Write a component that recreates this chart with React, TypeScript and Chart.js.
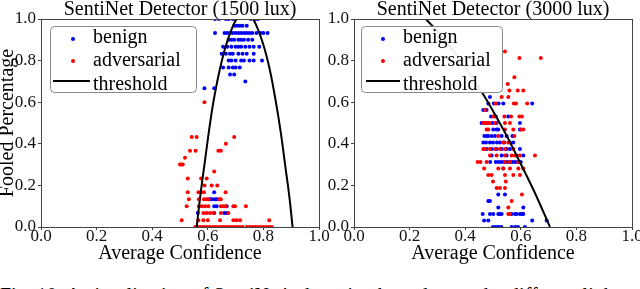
import React, { useEffect, useRef } from 'react';
import { Chart, registerables } from 'chart.js';

Chart.register(...registerables);

const FONT = "'Liberation Serif', 'Times New Roman', Times, serif";
Chart.defaults.font.family = FONT;

// ---------- data ----------
const xTicks = [0, 0.2, 0.4, 0.6, 0.8, 1.0];
const yTicks = [0, 0.2, 0.4, 0.6, 0.8, 1.0];

const leftTitle = 'SentiNet Detector (1500 lux)';
const rightTitle = 'SentiNet Detector (3000 lux)';
const xTitle = 'Average Confidence';
const yTitle = 'Fooled Percentage';
const caption = "Fig. 10: A visualization of SentiNet's detection boundary under different light conditions.";

const leftBenign: [number, number][] = [
  [0.626, 1.0], [0.64, 1.0], [0.665, 1.0], [0.675, 1.0], [0.69, 1.0], [0.70, 1.0], [0.755, 1.0], [0.77, 1.0], [0.78, 1.0],
  [0.695, 0.967], [0.705, 0.967], [0.715, 0.967], [0.725, 0.967], [0.74, 0.967],
  [0.626, 0.933], [0.66, 0.933], [0.67, 0.933], [0.68, 0.933], [0.69, 0.933], [0.70, 0.933], [0.71, 0.933], [0.72, 0.933],
  [0.73, 0.933], [0.74, 0.933], [0.75, 0.933], [0.76, 0.933], [0.775, 0.933], [0.79, 0.933], [0.80, 0.933], [0.815, 0.933],
  [0.675, 0.9], [0.685, 0.9], [0.695, 0.9], [0.71, 0.9], [0.72, 0.9], [0.73, 0.9], [0.745, 0.9], [0.76, 0.9],
  [0.655, 0.867], [0.67, 0.867], [0.685, 0.867], [0.70, 0.867], [0.71, 0.867], [0.72, 0.867], [0.735, 0.867], [0.75, 0.867], [0.765, 0.867], [0.785, 0.867],
  [0.65, 0.833], [0.665, 0.833], [0.68, 0.833], [0.69, 0.833], [0.71, 0.833], [0.725, 0.833], [0.74, 0.833], [0.765, 0.833],
  [0.675, 0.8], [0.685, 0.8], [0.70, 0.8], [0.72, 0.8], [0.73, 0.8], [0.75, 0.8], [0.765, 0.8], [0.795, 0.8],
  [0.655, 0.767], [0.675, 0.767], [0.69, 0.767], [0.70, 0.767], [0.715, 0.767],
  [0.68, 0.733], [0.695, 0.733],
  [0.735, 0.7],
  [0.588, 0.667], [0.623, 0.667],
  [0.623, 0.167],
  [0.608, 0.133], [0.615, 0.133], [0.625, 0.133], [0.633, 0.133],
  [0.623, 0.1], [0.632, 0.1], [0.668, 0.1],
  [0.564, 0.067], [0.623, 0.067], [0.659, 0.067], [0.668, 0.067],
];

const leftAdversarial: [number, number][] = [
  [0.588, 0.6],
  [0.542, 0.433], [0.56, 0.433], [0.695, 0.433],
  [0.665, 0.4],
  [0.536, 0.367], [0.556, 0.367], [0.638, 0.367], [0.647, 0.367],
  [0.518, 0.333],
  [0.50, 0.3], [0.505, 0.3], [0.51, 0.3],
  [0.623, 0.267],
  [0.528, 0.233], [0.576, 0.233], [0.596, 0.233],
  [0.588, 0.2], [0.614, 0.2], [0.634, 0.2],
  [0.528, 0.167], [0.566, 0.167], [0.576, 0.167], [0.586, 0.167], [0.664, 0.167],
  [0.532, 0.133], [0.568, 0.133], [0.586, 0.133], [0.596, 0.133], [0.603, 0.133], [0.64, 0.133], [0.647, 0.133],
  [0.524, 0.1], [0.568, 0.1], [0.578, 0.1], [0.59, 0.1], [0.602, 0.1], [0.647, 0.1], [0.656, 0.1], [0.664, 0.1], [0.692, 0.1], [0.698, 0.1], [0.737, 0.1],
  [0.584, 0.067], [0.596, 0.067], [0.608, 0.067], [0.62, 0.067], [0.647, 0.067], [0.674, 0.067],
  [0.506, 0.033], [0.566, 0.033], [0.584, 0.033], [0.60, 0.033], [0.644, 0.033], [0.692, 0.033], [0.704, 0.033], [0.716, 0.033], [0.821, 0.033],
  [0.555, 0], [0.565, 0], [0.575, 0], [0.585, 0], [0.595, 0], [0.605, 0], [0.615, 0], [0.625, 0], [0.635, 0], [0.645, 0],
  [0.655, 0], [0.665, 0], [0.675, 0], [0.685, 0], [0.695, 0], [0.705, 0], [0.715, 0], [0.725, 0], [0.74, 0], [0.75, 0],
  [0.76, 0], [0.77, 0], [0.78, 0], [0.79, 0], [0.80, 0], [0.81, 0], [0.82, 0], [0.83, 0],
];

const leftThresholdX = [0.56, 0.573, 0.587, 0.603, 0.62, 0.642, 0.667, 0.703, 0.733, 0.763, 0.799, 0.824, 0.845, 0.863, 0.879, 0.893, 0.905];
const leftThresholdY = [0, 0.15, 0.29, 0.45, 0.6, 0.75, 0.88, 1.0, 1.03, 1.0, 0.88, 0.75, 0.6, 0.45, 0.29, 0.15, 0];

const rightBenign: [number, number][] = [
  [0.489, 0.625],
  [0.483, 0.594], [0.503, 0.594], [0.52, 0.594], [0.537, 0.594], [0.641, 0.594],
  [0.465, 0.5625], [0.477, 0.5625],
  [0.493, 0.531], [0.51, 0.531], [0.555, 0.531],
  [0.459, 0.5], [0.498, 0.5], [0.513, 0.5], [0.597, 0.5],
  [0.501, 0.469], [0.513, 0.469], [0.519, 0.469], [0.597, 0.469],
  [0.469, 0.4375], [0.477, 0.4375], [0.483, 0.4375], [0.495, 0.4375], [0.507, 0.4375], [0.531, 0.4375], [0.549, 0.4375], [0.57, 0.4375],
  [0.465, 0.406], [0.475, 0.406], [0.489, 0.406], [0.50, 0.406], [0.514, 0.406], [0.525, 0.406], [0.54, 0.406], [0.561, 0.406], [0.573, 0.406],
  [0.477, 0.375], [0.495, 0.375], [0.513, 0.375], [0.531, 0.375], [0.549, 0.375], [0.561, 0.375], [0.597, 0.375],
  [0.495, 0.344], [0.531, 0.344], [0.549, 0.344], [0.585, 0.344], [0.609, 0.344],
  [0.49, 0.3125], [0.51, 0.3125], [0.52, 0.3125], [0.53, 0.3125], [0.54, 0.3125], [0.55, 0.3125], [0.56, 0.3125], [0.57, 0.3125], [0.58, 0.3125], [0.59, 0.3125], [0.60, 0.3125],
  [0.537, 0.281],
  [0.519, 0.156], [0.543, 0.156],
  [0.483, 0.125], [0.489, 0.125],
  [0.519, 0.094], [0.609, 0.094],
  [0.463, 0.0625], [0.489, 0.0625], [0.501, 0.0625], [0.519, 0.0625], [0.525, 0.0625], [0.531, 0.0625], [0.567, 0.0625], [0.579, 0.0625], [0.585, 0.0625], [0.597, 0.0625], [0.604, 0.0625], [0.609, 0.0625],
  [0.468, 0.031], [0.483, 0.031], [0.641, 0.031], [0.693, 0.031],
  [0.50, 0], [0.51, 0], [0.52, 0], [0.53, 0], [0.567, 0], [0.58, 0], [0.59, 0], [0.615, 0],
];

const rightAdversarial: [number, number][] = [
  [0.543, 0.844],
  [0.595, 0.8125], [0.672, 0.8125],
  [0.577, 0.72],
  [0.553, 0.6875],
  [0.559, 0.656], [0.589, 0.656], [0.609, 0.656],
  [0.531, 0.625], [0.555, 0.625],
  [0.51, 0.594], [0.575, 0.594], [0.583, 0.594], [0.623, 0.594],
  [0.471, 0.5625],
  [0.501, 0.531], [0.541, 0.531], [0.565, 0.531], [0.595, 0.531], [0.604, 0.531],
  [0.465, 0.5], [0.471, 0.5], [0.477, 0.5], [0.483, 0.5], [0.489, 0.5], [0.507, 0.5], [0.543, 0.5], [0.561, 0.5],
  [0.477, 0.469], [0.483, 0.469], [0.543, 0.469], [0.573, 0.469], [0.601, 0.469], [0.609, 0.469],
  [0.519, 0.4375], [0.577, 0.4375],
  [0.537, 0.406], [0.555, 0.406],
  [0.465, 0.375], [0.471, 0.375], [0.489, 0.375], [0.507, 0.375], [0.525, 0.375], [0.543, 0.375], [0.573, 0.375],
  [0.489, 0.344], [0.513, 0.344], [0.543, 0.344], [0.567, 0.344], [0.579, 0.344], [0.597, 0.344], [0.651, 0.344],
  [0.445, 0.3125], [0.455, 0.3125], [0.477, 0.3125], [0.543, 0.3125], [0.561, 0.3125], [0.591, 0.3125],
  [0.468, 0.281], [0.519, 0.281], [0.537, 0.281], [0.561, 0.281], [0.591, 0.281], [0.609, 0.281],
  [0.483, 0.25], [0.495, 0.25], [0.543, 0.25], [0.573, 0.25], [0.597, 0.25],
  [0.50, 0.219], [0.546, 0.219],
  [0.513, 0.1875], [0.525, 0.1875], [0.543, 0.1875],
  [0.604, 0.156],
  [0.567, 0.125],
  [0.555, 0.094],
  [0.555, 0.0625], [0.561, 0.0625],
];

const rightThresholdX = [0.24, 0.258, 0.30, 0.35, 0.40, 0.459, 0.50, 0.55, 0.60, 0.65, 0.705];
const rightThresholdY = [1.02, 1.0, 0.94, 0.86, 0.769, 0.65, 0.558, 0.437, 0.303, 0.166, 0];

const legendLabels = ['benign', 'adversarial', 'threshold'];
const benignColor = '#0000ff';
const adversarialColor = '#ff0000';
const thresholdColor = '#000000';

// ---------- plugins ----------
const framePlugin = {
  id: 'frame',
  afterDatasetsDraw(chart: any) {
    const { ctx, chartArea } = chart;
    ctx.save();
    ctx.strokeStyle = '#444';
    ctx.lineWidth = 1;
    const l = Math.round(chartArea.left) + 0.5;
    const t = Math.round(chartArea.top) + 0.5;
    const r = Math.round(chartArea.right) + 0.5;
    const b = Math.round(chartArea.bottom) + 0.5;
    ctx.strokeRect(l, t, r - l, b - t);
    ctx.restore();
  },
};

const boxLegendPlugin = {
  id: 'boxLegend',
  afterDraw(chart: any, _args: any, opts: any) {
    const { ctx } = chart;
    const { x, y, w, h, markerX, textX, lineX1, lineX2, rowsY, baselines } = opts;
    ctx.save();
    ctx.beginPath();
    if (ctx.roundRect) ctx.roundRect(x + 0.5, y + 0.5, w, h, 4);
    else ctx.rect(x + 0.5, y + 0.5, w, h);
    ctx.fillStyle = 'rgba(255,255,255,0.92)';
    ctx.fill();
    ctx.strokeStyle = '#8a8a8a';
    ctx.lineWidth = 1;
    ctx.stroke();

    const ds = chart.data.datasets;
    legendLabels.forEach((lab: string, i: number) => {
      const d = ds.find((q: any) => q.label === lab);
      if (!d) return;
      if (d.showLine) {
        ctx.beginPath();
        ctx.strokeStyle = d.borderColor;
        ctx.lineWidth = 2;
        ctx.moveTo(lineX1, rowsY[i]);
        ctx.lineTo(lineX2, rowsY[i]);
        ctx.stroke();
      } else {
        ctx.beginPath();
        ctx.fillStyle = d.backgroundColor;
        ctx.arc(markerX, rowsY[i], 2, 0, Math.PI * 2);
        ctx.fill();
      }
      ctx.fillStyle = '#000';
      ctx.font = `20px ${FONT}`;
      ctx.textAlign = 'left';
      ctx.textBaseline = 'alphabetic';
      ctx.fillText(lab, textX, baselines[i]);
    });
    ctx.restore();
  },
};

type PanelProps = {
  left: number;
  width: number;
  title: string;
  benign: [number, number][];
  adversarial: [number, number][];
  thX: number[];
  thY: number[];
  yAxisWidth: number;
  padRight: number;
  showYTitle: boolean;
  legend: any;
};

function Panel(p: PanelProps) {
  const ref = useRef<HTMLCanvasElement>(null);
  useEffect(() => {
    const toPts = (arr: [number, number][]) => arr.map(([x, y]) => ({ x, y }));
    const thPts = p.thX.map((x, i) => ({ x, y: p.thY[i] }));
    const tickFont = { family: FONT, size: 17, lineHeight: 1, weight: 'normal' };
    const chart = new Chart(ref.current as HTMLCanvasElement, {
      type: 'scatter',
      data: {
        datasets: [
          {
            label: 'threshold',
            data: thPts,
            showLine: true,
            borderColor: thresholdColor,
            backgroundColor: thresholdColor,
            borderWidth: 2,
            pointRadius: 0,
            tension: 0.35,
            clip: 0,
          } as any,
          {
            label: 'adversarial',
            data: toPts(p.adversarial),
            backgroundColor: adversarialColor,
            borderWidth: 0,
            pointRadius: 2,
            clip: 0,
          } as any,
          {
            label: 'benign',
            data: toPts(p.benign),
            backgroundColor: benignColor,
            borderWidth: 0,
            pointRadius: 2,
            clip: 0,
          } as any,
        ],
      },
      options: {
        responsive: false,
        maintainAspectRatio: false,
        animation: false,
        events: [],
        layout: { padding: { left: 0, right: p.padRight, top: 0, bottom: 0 } },
        plugins: {
          legend: { display: false },
          tooltip: { enabled: false },
          title: {
            display: true,
            text: p.title,
            fullSize: false,
            color: '#000',
            font: { family: FONT, size: 20, lineHeight: 0.95, weight: 'normal' },
            padding: 0,
          },
          boxLegend: p.legend,
        } as any,
        scales: {
          x: {
            type: 'linear',
            min: 0,
            max: 1,
            afterFit: (s: any) => {
              s.height = 62;
              s.paddingLeft = 0;
              s.paddingRight = 0;
            },
            afterBuildTicks: (s: any) => {
              s.ticks = xTicks.map((v) => ({ value: v }));
            },
            ticks: {
              color: '#111',
              font: tickFont,
              padding: -2,
              maxRotation: 0,
              autoSkip: false,
              callback: (v: any) => Number(v).toFixed(1),
            },
            grid: { drawOnChartArea: false, drawTicks: true, tickLength: 3, color: '#444' },
            border: { display: false },
            title: {
              display: true,
              text: xTitle,
              color: '#000',
              font: { family: FONT, size: 20, lineHeight: 1, weight: 'normal' },
              padding: { top: 0, bottom: 25.5 },
            },
          },
          y: {
            type: 'linear',
            min: 0,
            max: 1,
            afterFit: (s: any) => {
              s.width = p.yAxisWidth;
              s.paddingTop = 0;
              s.paddingBottom = 0;
            },
            afterBuildTicks: (s: any) => {
              s.ticks = yTicks.map((v) => ({ value: v }));
            },
            ticks: {
              color: '#111',
              font: tickFont,
              padding: 2,
              autoSkip: false,
              callback: (v: any) => Number(v).toFixed(1),
            },
            grid: { drawOnChartArea: false, drawTicks: true, tickLength: 3, color: '#444' },
            border: { display: false },
            title: {
              display: p.showYTitle,
              text: yTitle,
              color: '#000',
              font: { family: FONT, size: 20, lineHeight: 1, weight: 'normal' },
              padding: { top: -2, bottom: 0 },
            },
          },
        },
      } as any,
      plugins: [framePlugin, boxLegendPlugin],
    });
    return () => chart.destroy();
  }, []);
  return (
    <canvas
      ref={ref}
      width={p.width}
      height={289}
      style={{ position: 'absolute', left: p.left, top: 0, width: p.width, height: 289 }}
    />
  );
}

export default function App() {
  return (
    <div
      style={{
        position: 'fixed',
        left: 0,
        top: 0,
        width: 640,
        height: 289,
        overflow: 'hidden',
        background: '#fff',
      }}
    >
      <div
        style={{
          position: 'absolute',
          left: 0,
          top: 285,
          fontFamily: FONT,
          fontSize: 20,
          lineHeight: '20px',
          whiteSpace: 'nowrap',
          color: '#000',
        }}
      >
        {caption}
      </div>
      <Panel
        left={0}
        width={340}
        title={leftTitle}
        benign={leftBenign}
        adversarial={leftAdversarial}
        thX={leftThresholdX}
        thY={leftThresholdY}
        yAxisWidth={41}
        padRight={21}
        showYTitle={true}
        legend={{
          x: 50, y: 26, w: 146, h: 66,
          markerX: 73, textX: 93, lineX1: 53, lineX2: 90,
          rowsY: [39, 61, 81], baselines: [42.5, 66, 89.5],
        }}
      />
      <Panel
        left={320}
        width={320}
        title={rightTitle}
        benign={rightBenign}
        adversarial={rightAdversarial}
        thX={rightThresholdX}
        thY={rightThresholdY}
        yAxisWidth={34}
        padRight={8}
        showYTitle={false}
        legend={{
          x: 41, y: 26, w: 141, h: 66,
          markerX: 63, textX: 83, lineX1: 46, lineX2: 80,
          rowsY: [39, 61, 81], baselines: [42.5, 66, 89.5],
        }}
      />
    </div>
  );
}
